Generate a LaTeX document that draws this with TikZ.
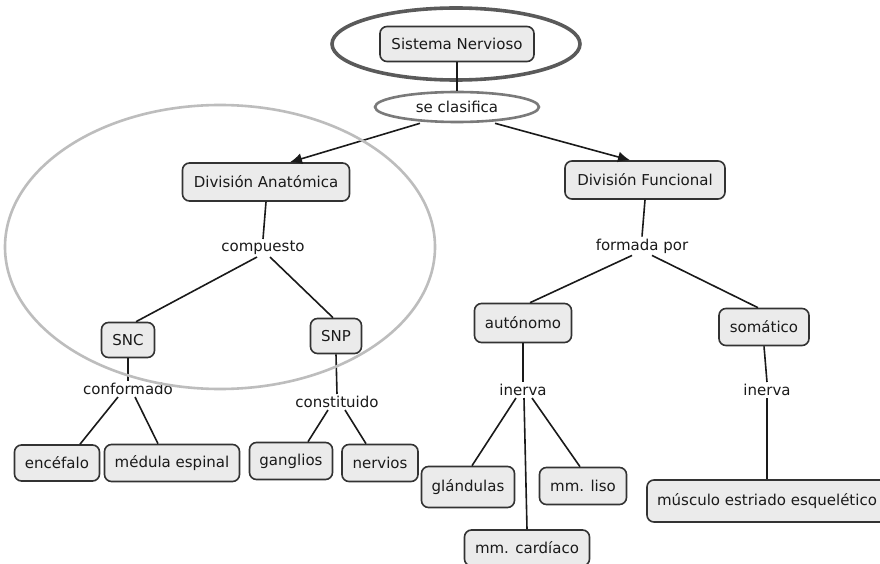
\documentclass[tikz,border=0pt]{standalone}
\usepackage{fontspec}
\setmainfont{DejaVu Sans}
\usetikzlibrary{shapes.geometric,arrows.meta}
\definecolor{boxfill}{HTML}{EBEBEB}
\definecolor{boxline}{HTML}{333333}
\definecolor{txt}{HTML}{1A1A1A}
\definecolor{hlgray}{HTML}{5A5A5A}
\definecolor{midgray}{HTML}{7A7A7A}
\definecolor{lightgray}{HTML}{BDBDBD}
\begin{document}
\begin{tikzpicture}[x=1pt,y=-1pt,
  font=\fontsize{15}{17}\selectfont,
  concept/.style={draw=boxline, fill=boxfill, rounded corners=7pt, line width=1.6pt,
    text=txt, inner sep=0pt, align=center},
  linkw/.style={text=txt, inner sep=2pt},
  conn/.style={draw=txt, line width=1.6pt},
  arr/.style={conn, -{Latex[length=12pt,width=11pt]}}]
\fill[white] (0,0) rectangle (880,564);
\useasboundingbox (0,0) rectangle (880,564);

% highlight ellipse round the root concept
\draw[hlgray, line width=3.6pt] (456,44) ellipse [x radius=124pt, y radius=36pt];

% concepts
\node[concept, minimum width=154pt, minimum height=35pt] (sn) at (457,44) {Sistema Nervioso};
\node[ellipse, draw=midgray, line width=2.6pt, text=txt, inner sep=0pt,
      minimum width=164pt, minimum height=30pt] (sec) at (457,107) {se clasifica};
\node[concept, minimum width=167pt, minimum height=38pt] (da) at (266,182) {División Anatómica};
\node[concept, minimum width=160pt, minimum height=38pt] (df) at (645,180) {División Funcional};
\node[concept, minimum width=53pt, minimum height=35pt] (snc) at (128,340) {SNC};
\node[concept, minimum width=51pt, minimum height=35pt] (snp) at (336,336) {SNP};
\node[concept, minimum width=85pt, minimum height=36pt] (enc) at (57,463) {encéfalo};
\node[concept, minimum width=135pt, minimum height=37pt] (med) at (172,463) {médula espinal};
\node[concept, minimum width=83pt, minimum height=37pt] (gan) at (291,461) {ganglios};
\node[concept, minimum width=76pt, minimum height=37pt] (ner) at (380,463) {nervios};
\node[concept, minimum width=97pt, minimum height=39pt] (aut) at (523,323) {autónomo};
\node[concept, minimum width=90pt, minimum height=37pt] (som) at (764,327) {somático};
\node[concept, minimum width=93pt, minimum height=41pt] (gla) at (468,487) {glándulas};
\node[concept, minimum width=87pt, minimum height=37pt] (liso) at (583,486) {mm. liso};
\node[concept, minimum width=125pt, minimum height=36pt] (card) at (527,548) {mm. cardíaco};
\node[concept, minimum width=240pt, minimum height=42pt] (mus) at (767,501) {músculo estriado esquelético};

% linking words
\node[linkw] (comp) at (263,248) {compuesto};
\node[linkw] (conf) at (128,389) {conformado};
\node[linkw] (cons) at (337,402) {constituido};
\node[linkw] (form) at (642,246) {formada por};
\node[linkw] (inl) at (523,390) {inerva};
\node[linkw] (inr) at (767,390) {inerva};

% connectors
\draw[conn] (sn.south) -- (sec.north);
\draw[arr] ([xshift=-37pt]sec.south) -- ([xshift=24pt]da.north);
\draw[arr] ([xshift=38pt]sec.south) -- ([xshift=-15pt]df.north);

\draw[conn] (da.south) -- (comp.north);
\draw[conn] ([xshift=-6pt]comp.south) -- ([xshift=8pt]snc.north);
\draw[conn] ([xshift=7pt]comp.south) -- ([xshift=-3pt]snp.north);
\draw[conn] (snc.south) -- (conf.north);
\draw[conn] ([xshift=-10pt]conf.south) -- ([xshift=23pt]enc.north);
\draw[conn] ([xshift=7pt]conf.south) -- ([xshift=-14pt]med.north);
\draw[conn] (snp.south) -- (cons.north);
\draw[conn] ([xshift=-9pt]cons.south) -- ([xshift=17pt]gan.north);
\draw[conn] ([xshift=8pt]cons.south) -- ([xshift=-14pt]ner.north);

\draw[conn] (df.south) -- (form.north);
\draw[conn] ([xshift=-10pt]form.south) -- ([xshift=7pt]aut.north);
\draw[conn] ([xshift=10pt]form.south) -- ([xshift=-6pt]som.north);
\draw[conn] (aut.south) -- (inl.north);
\draw[conn] ([xshift=-7pt]inl.south) -- ([xshift=4pt]gla.north);
\draw[conn] ([xshift=1pt]inl.south) -- (card.north);
\draw[conn] ([xshift=9pt]inl.south) -- ([xshift=-3pt]liso.north);
\draw[conn] (som.south) -- (inr.north);
\draw[conn] (inr.south) -- (mus.north);

% large light highlight ellipse, drawn over the left branch
\draw[lightgray, line width=2.6pt] (220,247) ellipse [x radius=215pt, y radius=142pt];
\end{tikzpicture}
\end{document}
